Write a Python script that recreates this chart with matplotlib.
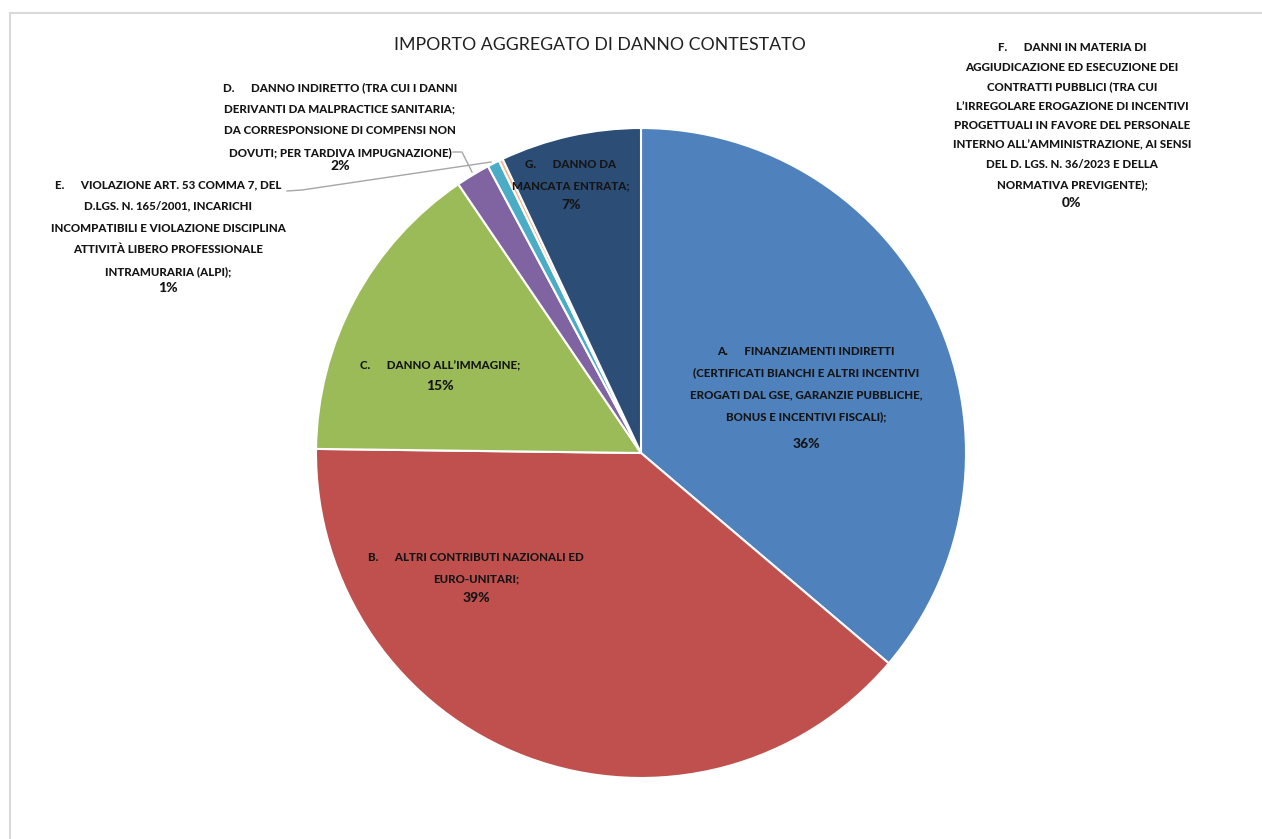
import matplotlib.pyplot as plt
from matplotlib.lines import Line2D

plt.rcParams['font.family'] = ['Lato', 'DejaVu Sans']

# data
categories = ["A", "B", "C", "D", "E", "F", "G"]
values = [36.2, 39.0, 15.3, 1.7, 0.6, 0.2, 7.0]
colors = ["#4F81BD", "#C0504D", "#9BBB59", "#8064A2", "#4BACC6", "#F7B48A", "#2C4D75"]
descriptions = [
    "A.      FINANZIAMENTI INDIRETTI\n(CERTIFICATI BIANCHI E ALTRI INCENTIVI\nEROGATI DAL GSE, GARANZIE PUBBLICHE,\nBONUS E INCENTIVI FISCALI);",
    "B.      ALTRI CONTRIBUTI NAZIONALI ED\nEURO-UNITARI;",
    "C.      DANNO ALL\u2019IMMAGINE;",
    "D.      DANNO INDIRETTO (TRA CUI I DANNI\nDERIVANTI DA MALPRACTICE SANITARIA;\nDA CORRESPONSIONE DI COMPENSI NON\nDOVUTI; PER TARDIVA IMPUGNAZIONE)",
    "E.      VIOLAZIONE ART. 53 COMMA 7, DEL\nD.LGS. N. 165/2001, INCARICHI\nINCOMPATIBILI E VIOLAZIONE DISCIPLINA\nATTIVIT\u00c0 LIBERO PROFESSIONALE\nINTRAMURARIA (ALPI);",
    "F.      DANNI IN MATERIA DI\nAGGIUDICAZIONE ED ESECUZIONE DEI\nCONTRATTI PUBBLICI (TRA CUI\nL\u2019IRREGOLARE EROGAZIONE DI INCENTIVI\nPROGETTUALI IN FAVORE DEL PERSONALE\nINTERNO ALL\u2019AMMINISTRAZIONE, AI SENSI\nDEL D. LGS. N. 36/2023 E DELLA\nNORMATIVA PREVIGENTE);",
    "G.      DANNO DA\nMANCATA ENTRATA;",
]
title = "IMPORTO AGGREGATO DI DANNO CONTESTATO"

W, H = 1262, 839
fig = plt.figure(figsize=(W / 100, H / 100), dpi=100)
ax = fig.add_axes([0, 0, 1, 1])

cx, cy, r = 641, H - 453, 325
wedges, _ = ax.pie(values, colors=colors, startangle=90, counterclock=False,
                   center=(cx, cy), radius=r, frame=True,
                   wedgeprops=dict(edgecolor='white', linewidth=1.5))
ax.set_xlim(0, W)
ax.set_ylim(0, H)
ax.set_aspect('equal')
ax.axis('off')

# chart border (top and left only visible)
fig.add_artist(Line2D([10 / W, 10 / W], [0, 1 - 13 / H], color='#d9d9d9', lw=1.5))
fig.add_artist(Line2D([10 / W, 1], [1 - 13 / H, 1 - 13 / H], color='#d9d9d9', lw=1.5))

ax.text(600, H - 45, title, ha='center', va='center', fontsize=12.8, color='#222222')

# label positions (pixel coords of block centre, percent line y, line spacing)
label_pos = {
    "A": (806, 384, 444, 2.2),
    "B": (476, 568, 598, 2.2),
    "C": (440, 366, 386, 2.2),
    "D": (340, 120, 166, 2.2),
    "E": (168, 228, 288, 2.2),
    "F": (1072, 116, 203, 1.95),
    "G": (571, 175, 205, 2.2),
}
for cat, desc, v in zip(categories, descriptions, values):
    x, y, yp, ls = label_pos[cat]
    tc = '#151515'
    ax.text(x, H - y, desc, ha='center', va='center', fontsize=8.3,
            fontweight=900, color=tc, linespacing=ls)
    ax.text(x, H - yp, f"{v:.0f}%", ha='center', va='center', fontsize=10,
            fontweight=900, color=tc)

# leader lines
ax.plot([453, 462, 472], [H - 152, H - 152, H - 172], color='#a6a6a6', lw=1)
ax.plot([287, 302, 491], [H - 191, H - 190, H - 162], color='#a6a6a6', lw=1)

fig.savefig('out.png', dpi=100)
